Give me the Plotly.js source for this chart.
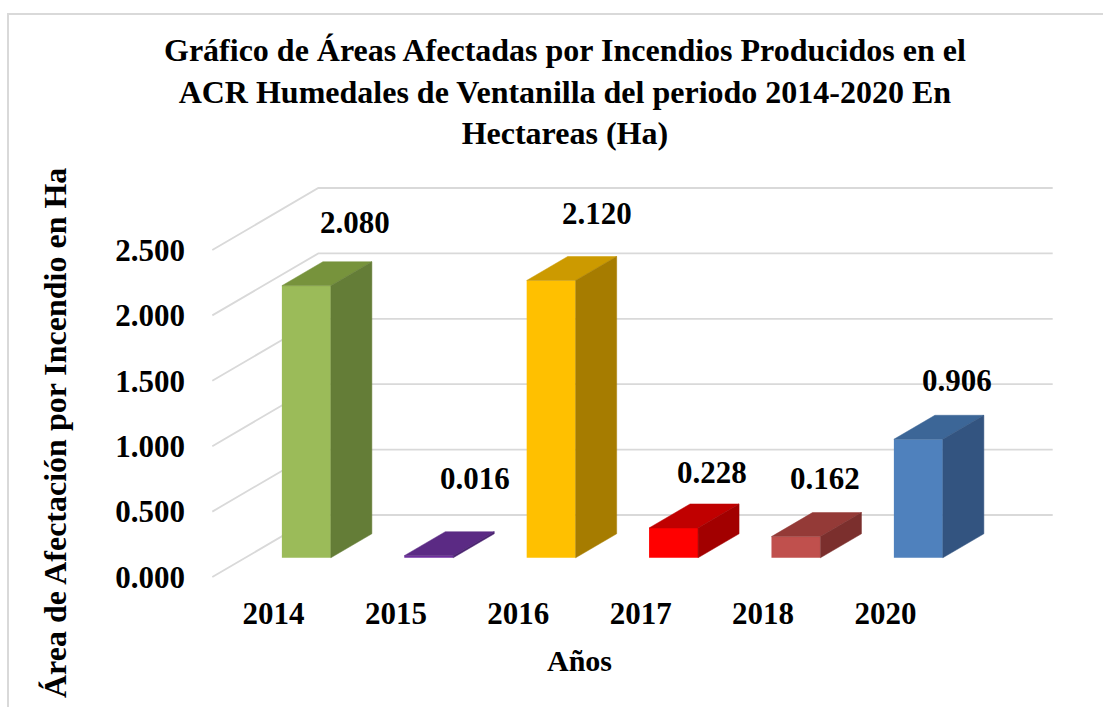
<!DOCTYPE html>
<html>
<head>
<meta charset="utf-8">
<script src="https://cdn.plot.ly/plotly-3.0.1.min.js"></script>
<style>
  body { margin: 0; overflow: hidden; background: #fff; }
  #graph { position: absolute; left: 0; top: 0; width: 1103px; height: 707px; }
  #frame { position: absolute; left: 7px; top: 13px; width: 1200px; height: 800px;
           border-left: 2px solid #d9d9d9; border-top: 2px solid #d9d9d9; pointer-events: none; }
</style>
</head>
<body>
<div id="graph"></div>
<div id="frame"></div>
<script>
// data
let years = ['2014', '2015', '2016', '2017', '2018', '2020'];
let areas = [2.080, 0.016, 2.120, 0.228, 0.162, 0.906];
let valueLabels = ['2.080', '0.016', '2.120', '0.228', '0.162', '0.906'];
let yTickVals = [0, 0.5, 1, 1.5, 2, 2.5];
let yTickText = ['0.000', '0.500', '1.000', '1.500', '2.000', '2.500'];

// colours of the faces
let frontColors = ['#9bbb59', '#7030a0', '#ffc000', '#ff0000', '#c0504d', '#4f81bd'];
let topColors = ['#77933c', '#5b2a84', '#cc9a00', '#c00000', '#943a37', '#3c6697'];
let sideColors = ['#647d37', '#4a2270', '#a67c00', '#a20000', '#7b2f2d', '#335480'];

// small nudges for the value labels (px, y positive = up)
let labelShiftX = [4, 2, 2, -6, -15, -6];
let labelShiftY = [0, 14, 4, -8, -5, -4];

let font = 'Liberation Serif, Times New Roman, serif';

// pixel layout of the plot area
let W = 1103, H = 707;
let L = 200, R = 1070, T = 150, B = 585;
let x0px = 273.5, xScale = 122.4;   // category 0 at front, px per category
let y0px = 577, yScale = 130.8;     // value 0 at front, px per unit

// floor depth (3d look)
let DX = 106 / xScale, DY = 62 / yScale;
let D0 = 0.31, D1 = 0.697, HW = 0.2;

// gridlines: slanted side wall + flat back wall, kept under the bars
let shapes = yTickVals.map(function (v) {
    let xa = -0.5, xb = -0.5 + DX, xc = years.length - 0.5 + DX;
    return {
        type: 'path', xref: 'x', yref: 'y', layer: 'below',
        path: 'M' + xa + ',' + v + ' L' + xb + ',' + (v + DY) + ' L' + xc + ',' + (v + DY),
        line: { color: '#d9d9d9', width: 1.8 }
    };
});

let traces = [];

// front faces
traces.push({
    type: 'bar',
    x: years.map(function (y, i) { return i + D0 * DX; }),
    y: areas,
    base: D0 * DY,
    width: 2 * HW,
    marker: { color: frontColors, line: { width: 0 } },
    hoverinfo: 'skip'
});

// top and side faces
areas.forEach(function (v, i) {
    let xl = i - HW, xr = i + HW;
    traces.push({
        x: [xl + D0 * DX, xr + D0 * DX, xr + D1 * DX, xl + D1 * DX, xl + D0 * DX],
        y: [v + D0 * DY, v + D0 * DY, v + D1 * DY, v + D1 * DY, v + D0 * DY],
        mode: 'lines', fill: 'toself', fillcolor: topColors[i],
        line: { color: topColors[i], width: 0.5 }, hoverinfo: 'skip'
    });
    traces.push({
        x: [xr + D0 * DX, xr + D1 * DX, xr + D1 * DX, xr + D0 * DX, xr + D0 * DX],
        y: [D0 * DY, D1 * DY, v + D1 * DY, v + D0 * DY, D0 * DY],
        mode: 'lines', fill: 'toself', fillcolor: sideColors[i],
        line: { color: sideColors[i], width: 0.5 }, hoverinfo: 'skip'
    });
});

let annotations = areas.map(function (v, i) {
    return {
        x: i + 0.63, y: v + 0.63, xref: 'x', yref: 'y',
        text: '<b>' + valueLabels[i] + '</b>', showarrow: false,
        xshift: labelShiftX[i], yshift: labelShiftY[i],
        font: { family: font, size: 31, color: '#000' }
    };
});

// chart title
annotations.push({
    x: (565 - L) / (R - L), xref: 'paper', xanchor: 'center',
    y: (B - 91) / (B - T), yref: 'paper', yanchor: 'middle',
    text: '<b>Gráfico de Áreas Afectadas por Incendios Producidos en el<br>' +
          'ACR Humedales de Ventanilla del periodo 2014-2020 En<br>Hectareas (Ha)</b>',
    showarrow: false,
    font: { family: font, size: 32, color: '#000' }
});

annotations.push({
    x: (years.length - 1) / 2, xref: 'x', xanchor: 'center',
    y: (B - 660) / (B - T), yref: 'paper', yanchor: 'middle',
    text: '<b>Años</b>', showarrow: false,
    font: { family: font, size: 30, color: '#000' }
});

annotations.push({
    x: (55 - L) / (R - L), xref: 'paper', xanchor: 'center',
    y: (B - 433) / (B - T), yref: 'paper', yanchor: 'middle',
    text: '<b>Área de Afectación por Incendio en Ha</b>', showarrow: false,
    textangle: -90,
    font: { family: font, size: 32, color: '#000' }
});

let layout = {
    width: W, height: H,
    margin: { l: L, r: W - R, t: T, b: H - B },
    paper_bgcolor: '#fff', plot_bgcolor: 'rgba(0,0,0,0)',
    showlegend: false, hovermode: false,
    xaxis: {
        range: [(L - x0px) / xScale, (R - x0px) / xScale],
        tickvals: years.map(function (y, i) { return i; }),
        ticktext: years.map(function (y) { return '<b>' + y + '</b>'; }),
        tickfont: { family: font, size: 31, color: '#000' },
        ticklabelstandoff: 7,
        showgrid: false, zeroline: false, showline: false, ticks: '',
        fixedrange: true
    },
    yaxis: {
        range: [(y0px - B) / yScale, (y0px - T) / yScale],
        tickvals: yTickVals,
        ticktext: yTickText.map(function (t) { return '<b>' + t + '</b>'; }),
        tickfont: { family: font, size: 31, color: '#000' },
        ticklabelstandoff: 14,
        showgrid: false, zeroline: false, showline: false, ticks: '',
        fixedrange: true
    },
    shapes: shapes,
    annotations: annotations
};

Plotly.newPlot('graph', traces, layout, { displayModeBar: false, staticPlot: true });
</script>
</body>
</html>
